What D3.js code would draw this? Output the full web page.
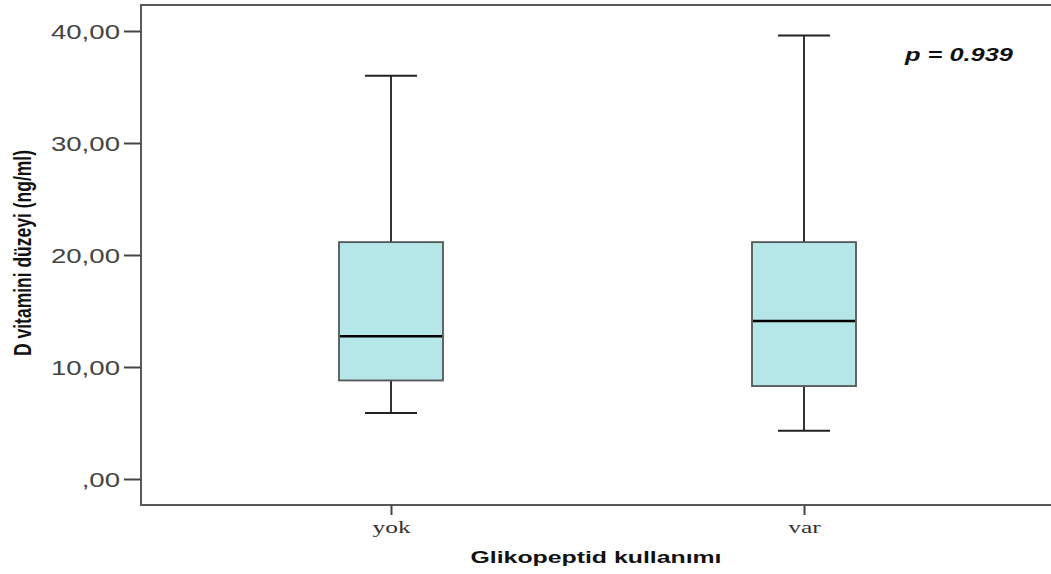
<!DOCTYPE html>
<html>
<head>
<meta charset="utf-8">
<script src="https://cdn.jsdelivr.net/npm/d3@7"></script>
<style>
  body { margin: 0; background: #fff; }
  svg { display: block; }
</style>
</head>
<body>
<div class="canvas"></div>
<script>
// data
const groups = ["yok", "var"]
const whiskerLow = [5.9, 4.3]
const q1 = [8.8, 8.3]
const median = [12.75, 14.1]
const q3 = [21.15, 21.15]
const whiskerHigh = [36.0, 39.6]
const yTicks = [0, 10, 20, 30, 40]
const yTickLabels = [",00", "10,00", "20,00", "30,00", "40,00"]
const pText = "p = 0.939"

const width = 1051, height = 574
const frame = {left: 141, top: 5, right: 1060, bottom: 505}

const svg = d3.select(".canvas").append("svg").attr("width", width).attr("height", height)

// the original picture is stretched sideways, so text gets widened too
const stretch = (sel, k) => sel.each(function() {
    const len = this.getComputedTextLength()
    d3.select(this).attr("textLength", len * k).attr("lengthAdjust", "spacingAndGlyphs")
})

// scales
const y = d3.scaleLinear().domain([0, 40]).range([479, 31])
const x = d3.scalePoint().domain(groups).range([391, 804])

const boxW = 104, capW = 52

// frame (no right edge visible)
svg.append("path")
    .attr("d", `M${frame.right},${frame.top}H${frame.left}V${frame.bottom}H${frame.right}`)
    .attr("fill", "none").attr("stroke", "#5a5a5a").attr("stroke-width", 2)

// y axis
const yAxis = d3.axisLeft(y).tickValues(yTicks)
    .tickFormat((d, i) => yTickLabels[i]).tickSize(17).tickPadding(4)
const yg = svg.append("g").attr("transform", `translate(${frame.left},0)`).call(yAxis)
yg.select(".domain").remove()
yg.selectAll(".tick line").attr("stroke", "#444").attr("stroke-width", 2)
yg.selectAll(".tick text").attr("fill", "#444")
    .style("font-family", "Liberation Sans, Arial, sans-serif").style("font-size", "20px")
    .attr("dy", "0.36em")
    .call(stretch, 1.38)

// x axis
const xAxis = d3.axisBottom(x).tickSize(10).tickPadding(6)
const xg = svg.append("g").attr("transform", `translate(0,${frame.bottom})`).call(xAxis)
xg.select(".domain").remove()
xg.selectAll(".tick line").attr("stroke", "#444").attr("stroke-width", 2)
xg.selectAll(".tick text").attr("fill", "#333")
    .style("font-family", "Liberation Serif, Times New Roman, serif").style("font-size", "17px")
    .call(stretch, 1.5)

// boxes
const data = groups.map((g, i) => ({
    name: g, lo: whiskerLow[i], q1: q1[i], med: median[i], q3: q3[i], hi: whiskerHigh[i]
}))

const boxes = svg.selectAll(".box").data(data).enter().append("g").attr("class", "box")

boxes.append("line")
    .attr("x1", d => x(d.name)).attr("x2", d => x(d.name))
    .attr("y1", d => y(d.hi)).attr("y2", d => y(d.q3))
    .attr("stroke", "#333").attr("stroke-width", 2)
boxes.append("line")
    .attr("x1", d => x(d.name)).attr("x2", d => x(d.name))
    .attr("y1", d => y(d.q1)).attr("y2", d => y(d.lo))
    .attr("stroke", "#333").attr("stroke-width", 2)
boxes.append("line")
    .attr("x1", d => x(d.name) - capW / 2).attr("x2", d => x(d.name) + capW / 2)
    .attr("y1", d => y(d.hi)).attr("y2", d => y(d.hi))
    .attr("stroke", "#222").attr("stroke-width", 2)
boxes.append("line")
    .attr("x1", d => x(d.name) - capW / 2).attr("x2", d => x(d.name) + capW / 2)
    .attr("y1", d => y(d.lo)).attr("y2", d => y(d.lo))
    .attr("stroke", "#222").attr("stroke-width", 2)
boxes.append("rect")
    .attr("x", d => x(d.name) - boxW / 2).attr("width", boxW)
    .attr("y", d => y(d.q3)).attr("height", d => y(d.q1) - y(d.q3))
    .attr("fill", "#b5e6e8").attr("stroke", "#555").attr("stroke-width", 1.8)
boxes.append("line")
    .attr("x1", d => x(d.name) - boxW / 2 + 1).attr("x2", d => x(d.name) + boxW / 2 - 1)
    .attr("y1", d => y(d.med)).attr("y2", d => y(d.med))
    .attr("stroke", "#000").attr("stroke-width", 2.5)

// p value
svg.append("text")
    .attr("x", 905).attr("y", 61)
    .style("font-family", "Liberation Sans, Arial, sans-serif")
    .style("font-size", "18px").style("font-weight", "bold").style("font-style", "italic")
    .attr("fill", "#111")
    .attr("textLength", 108).attr("lengthAdjust", "spacingAndGlyphs")
    .text(pText)

// axis titles
svg.append("text")
    .attr("transform", "translate(31,253) rotate(-90) scale(1,1.45)")
    .attr("text-anchor", "middle")
    .style("font-family", "Liberation Sans, Arial, sans-serif")
    .style("font-size", "16px").style("font-weight", "bold")
    .attr("fill", "#111")
    .attr("textLength", 206).attr("lengthAdjust", "spacingAndGlyphs")
    .text("D vitamini düzeyi (ng/ml)")

svg.append("text")
    .attr("x", 596).attr("y", 563)
    .attr("text-anchor", "middle")
    .style("font-family", "Liberation Sans, Arial, sans-serif")
    .style("font-size", "16px").style("font-weight", "bold")
    .attr("fill", "#111")
    .attr("textLength", 251).attr("lengthAdjust", "spacingAndGlyphs")
    .text("Glikopeptid kullanımı")
</script>
</body>
</html>
